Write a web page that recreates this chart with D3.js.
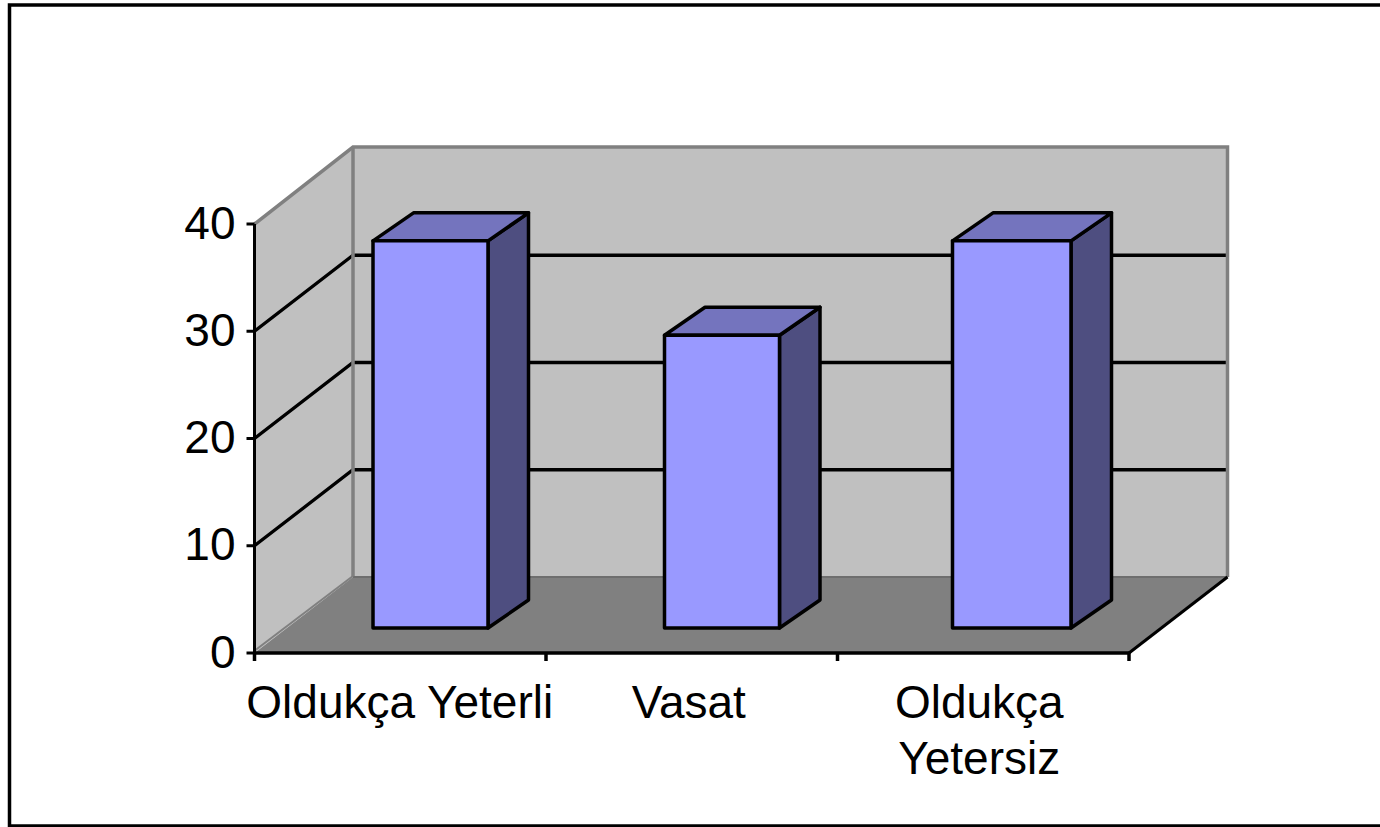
<!DOCTYPE html>
<html><head><meta charset="utf-8">
<script src="https://cdn.jsdelivr.net/npm/d3@7"></script>
<style>html,body{margin:0;padding:0;background:#fff}svg{display:block}text{font-family:"Liberation Sans",Arial,sans-serif;fill:#000}</style>
</head><body><svg id="c" width="1380" height="827"></svg>
<script>
const categories = ["Oldukça Yeterli", "Vasat", "Oldukça Yetersiz"];
const categoryLines = [["Oldukça Yeterli"], ["Vasat"], ["Oldukça", "Yetersiz"]];
const values = [36.1, 27.3, 36.1];
const yTicks = [0, 10, 20, 30, 40];

const svg = d3.select("#c");
const x0 = 254.5, x1 = 1129, yBase = 653, yTop = 224;
const depthX = 98.5, depthY = -76;
const barDepthX = 40.5, barDepthY = -28;
const floorInsetY = 25;
const wallTop = 147;

const x = d3.scaleBand().domain(categories).range([x0, x1]);
const y = d3.scaleLinear().domain([0, 40]).range([yBase, yTop]);
const line = d3.line();
const fontSize = 46;

// frame
svg.append("rect").attr("x", 9.5).attr("y", 5).attr("width", 1400).attr("height", 821)
  .attr("fill", "#fff").attr("stroke", "#000").attr("stroke-width", 3.5);

// walls
const wallBot = y(0) + depthY;
svg.append("path").attr("d", line([[x0, y(40)], [x0 + depthX, wallTop], [x0 + depthX, wallBot], [x0, y(0)]]) + "Z")
  .attr("fill", "#C0C0C0");
svg.append("rect").attr("x", x0 + depthX).attr("y", wallTop).attr("width", x1 - x0).attr("height", wallBot - wallTop)
  .attr("fill", "#C0C0C0");
// floor
svg.append("path").attr("d", line([[x0, y(0)], [x0 + depthX, wallBot], [x1 + depthX, wallBot], [x1, y(0)]]) + "Z")
  .attr("fill", "#808080");

// gridlines
yTicks.filter(t => t > 0 && t < 40).forEach(t => {
  svg.append("path").attr("fill", "none").attr("stroke", "#000").attr("stroke-width", 3.3)
    .attr("d", line([[x0, y(t)], [x0 + depthX, y(t) + depthY], [x1 + depthX, y(t) + depthY]]));
});

// wall edges
svg.append("path").attr("fill", "none").attr("stroke", "#808080").attr("stroke-width", 3.5)
  .attr("d", line([[x0, y(40)], [x0 + depthX, wallTop], [x1 + depthX, wallTop], [x1 + depthX, wallBot]]));
svg.append("path").attr("fill", "none").attr("stroke", "#808080").attr("stroke-width", 3.5)
  .attr("d", line([[x0 + depthX, wallTop], [x0 + depthX, wallBot]]));
svg.append("path").attr("fill", "none").attr("stroke", "#6e6e6e").attr("stroke-width", 2)
  .attr("d", line([[x0 + depthX, wallBot], [x1 + depthX, wallBot]]));
svg.append("path").attr("fill", "none").attr("stroke", "#808080").attr("stroke-width", 2)
  .attr("d", line([[x0 + 1, y(0) - 3], [x0 + depthX, wallBot - 1]]));
svg.append("path").attr("fill", "none").attr("stroke", "#000").attr("stroke-width", 3)
  .attr("d", line([[x1, y(0)], [x1 + depthX, wallBot]]));

// bars
const barStart = 118.5, barW = 115;
const barEdgeNudge = [0, 0, -3.5];
categories.forEach((c, i) => {
  const l = x(c) + barStart + barEdgeNudge[i], r = x(c) + barStart + barW;
  const b = y(0) - floorInsetY, t = b - (y(0) - y(values[i]));
  const g = svg.append("g").attr("stroke", "#000").attr("stroke-width", 3.5).attr("stroke-linejoin", "round");
  g.append("path").attr("fill", "#4E4E80").attr("d", line([[r, t], [r + barDepthX, t + barDepthY], [r + barDepthX, b + barDepthY], [r, b]]) + "Z");
  g.append("path").attr("fill", "#7474BE").attr("d", line([[l, t], [l + barDepthX, t + barDepthY], [r + barDepthX, t + barDepthY], [r, t]]) + "Z");
  g.append("rect").attr("fill", "#9999FF").attr("x", l).attr("y", t).attr("width", r - l).attr("height", b - t);
});

// y axis
const yAxis = d3.axisLeft(y).tickValues(yTicks).tickSize(8).tickSizeOuter(0).tickPadding(11).offset(0).tickFormat(d3.format("d"));
const gy = svg.append("g").attr("transform", `translate(${x0},0)`).call(yAxis);
gy.selectAll("path,line").attr("stroke", "#000").attr("stroke-width", 3);
gy.selectAll("text").attr("font-size", fontSize).attr("font-family", null);

// x axis
const xTickScale = d3.scaleLinear().domain([0, categories.length]).range([x0, x1]);
const xAxis = d3.axisBottom(xTickScale).tickValues(d3.range(categories.length + 1)).tickSize(8).tickSizeOuter(0).offset(0).tickFormat("");
const gx = svg.append("g").attr("transform", `translate(0,${yBase})`).call(xAxis);
gx.selectAll("path,line").attr("stroke", "#000").attr("stroke-width", 3.5);

// category labels
const labelNudge = [-0.5, -3, -4];
categories.forEach((c, i) => {
  const t = svg.append("text").attr("font-size", fontSize).attr("text-anchor", "middle");
  categoryLines[i].forEach((ln, k) => {
    t.append("tspan").attr("x", x(c) + x.bandwidth() / 2 + labelNudge[i]).attr("y", 718 + k * 56).text(ln);
  });
});
</script></body></html>
